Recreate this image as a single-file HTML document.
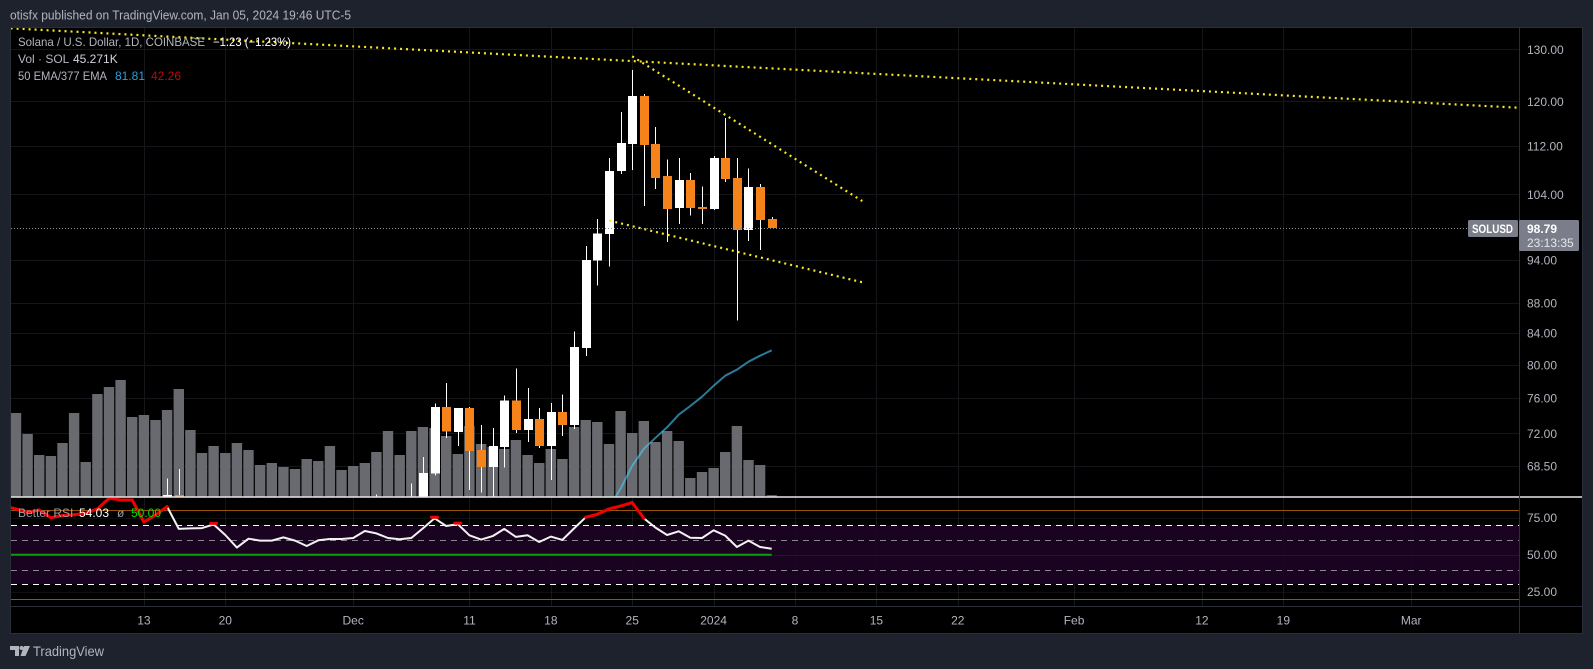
<!DOCTYPE html>
<html lang="en">
<head>
<meta charset="utf-8">
<title>SOLUSD chart</title>
<style>
html,body{margin:0;padding:0;background:#1e222d;width:1593px;height:669px;overflow:hidden}
svg{display:block;font-family:"Liberation Sans",sans-serif}
</style>
</head>
<body>
<svg id="chart" xmlns="http://www.w3.org/2000/svg" width="1593" height="669" viewBox="0 0 1593 669">
  <defs>
    <clipPath id="price-clip"><rect x="11" y="28" width="1509" height="469"/></clipPath>
    <clipPath id="rsi-clip"><rect x="11" y="498" width="1509" height="108"/></clipPath>
  </defs>
  <rect x="0" y="0" width="1593" height="669" fill="#1e222d"/>
  <text x="10" y="19.5" font-size="13" fill="#b2b5be" textLength="341" lengthAdjust="spacingAndGlyphs">otisfx published on TradingView.com, Jan 05, 2024 19:46 UTC-5</text>
  <rect x="10.5" y="27.5" width="1572" height="606" fill="#000" stroke="#2a2e39" stroke-width="1"/>
  <g id="grid"></g>
  <g id="rsi-pane" clip-path="url(#rsi-clip)"></g>
  <g id="volume" clip-path="url(#price-clip)"></g>
  <g id="ema" clip-path="url(#price-clip)"></g>
  <g id="candles" clip-path="url(#price-clip)"></g>
  <g id="last-price"></g>
  <g id="trends" clip-path="url(#price-clip)"></g>
  <line x1="11" x2="1582" y1="497" y2="497" stroke="#e8e8e8" stroke-width="1.4"/>
  <line x1="1519.5" x2="1519.5" y1="28" y2="633" stroke="#2a2e39"/>
  <line x1="11" x2="1582" y1="606.5" y2="606.5" stroke="#2a2e39"/>
  <g id="axis-labels" font-size="12" fill="#b2b5be"></g>

  <g font-size="12" fill="#b2b5be">
    <text x="18" y="46" textLength="187" lengthAdjust="spacingAndGlyphs">Solana / U.S. Dollar, 1D, COINBASE</text>
    <text x="213" y="46" fill="#ffffff" textLength="78" lengthAdjust="spacingAndGlyphs">−1.23 (−1.23%)</text>
    <text x="18" y="63">Vol · SOL</text>
    <text x="73" y="63" fill="#d1d4dc">45.271K</text>
    <text x="18" y="80" textLength="89" lengthAdjust="spacingAndGlyphs">50 EMA/377 EMA</text>
    <text x="115" y="80" fill="#2e9fd8">81.81</text>
    <text x="151" y="80" fill="#cc0000">42.26</text>
  </g>
  <g font-size="12" fill="#9a9da6">
    <text x="18" y="517">Better RSI</text>
    <text x="79" y="517" fill="#ffffff">54.03</text>
    <text x="117" y="517">ø</text>
    <text x="131" y="517" fill="#00e000">50.00</text>
  </g>

  <g>
    <rect x="1468" y="220" width="50" height="17" rx="1.5" fill="#7b7e8a"/>
    <text x="1472" y="233" font-size="12" font-weight="bold" fill="#ffffff" textLength="41" lengthAdjust="spacingAndGlyphs">SOLUSD</text>
  </g>
  <g>
    <rect x="1519" y="220" width="60" height="31" rx="1.5" fill="#7b7e8a"/>
    <text x="1527" y="233" font-size="12" font-weight="bold" fill="#ffffff">98.79</text>
    <text x="1527" y="247" font-size="12" fill="#e6e7ea">23:13:35</text>
  </g>

  <g>
    <path fill="#b2b5be" d="M10 646h9v10h-4v-6h-5z M24 646h6l-4.5 10h-5z"/>
    <circle cx="21.5" cy="648" r="2" fill="#b2b5be"/>
    <text x="33" y="656" font-size="14" fill="#b2b5be" textLength="71" lengthAdjust="spacingAndGlyphs">TradingView</text>
  </g>
</svg>
<script>
// ---- Chart data ----
const dates = ['2023-11-01','2023-11-02','2023-11-03','2023-11-04','2023-11-05','2023-11-06','2023-11-07','2023-11-08','2023-11-09','2023-11-10','2023-11-11','2023-11-12','2023-11-13','2023-11-14','2023-11-15','2023-11-16','2023-11-17','2023-11-18','2023-11-19','2023-11-20','2023-11-21','2023-11-22','2023-11-23','2023-11-24','2023-11-25','2023-11-26','2023-11-27','2023-11-28','2023-11-29','2023-11-30','2023-12-01','2023-12-02','2023-12-03','2023-12-04','2023-12-05','2023-12-06','2023-12-07','2023-12-08','2023-12-09','2023-12-10','2023-12-11','2023-12-12','2023-12-13','2023-12-14','2023-12-15','2023-12-16','2023-12-17','2023-12-18','2023-12-19','2023-12-20','2023-12-21','2023-12-22','2023-12-23','2023-12-24','2023-12-25','2023-12-26','2023-12-27','2023-12-28','2023-12-29','2023-12-30','2023-12-31','2024-01-01','2024-01-02','2024-01-03','2024-01-04','2024-01-05','2024-01-06'];
const volumeK = [2000,2100,1575,1050,1025,1350,2100,875,2575,2750,2925,2000,2050,1925,2175,2700,1675,1100,1275,1100,1350,1175,800,850,750,700,950,900,1275,675,775,850,1125,1650,1050,1650,1750,1725,1525,1075,1775,1325,1250,1200,1425,1050,850,1200,950,1750,1925,1875,1325,2150,1600,1900,1375,1650,1400,475,625,725,1125,1775,925,800,45.271];
const rsiValues = [83,80.9,78.6,80.2,75.0,76.4,77.0,78.0,80.9,88.1,87.0,87.0,72.1,76.8,82.5,67.4,67.8,68.0,70.5,63.3,54.8,60.8,59.5,59.5,61.7,59.5,55.9,59.7,60.6,60.6,61.3,66.0,64.4,61.3,60.5,61.3,67.8,74.6,69.4,70.7,63.1,60.2,62.6,67.4,62.0,63.1,58.6,62.2,60.0,67.8,75.3,77.3,80.9,82.9,85.2,74.6,68.3,63.3,65.8,61.5,61.3,66.5,62.9,55.2,59.5,55.2,54.03];

const candleDates = ['2023-11-15','2023-11-16','2023-12-03','2023-12-06','2023-12-07','2023-12-08','2023-12-09','2023-12-10','2023-12-11','2023-12-12','2023-12-13','2023-12-14','2023-12-15','2023-12-16','2023-12-17','2023-12-18','2023-12-19','2023-12-20','2023-12-21','2023-12-22','2023-12-23','2023-12-24','2023-12-25','2023-12-26','2023-12-27','2023-12-28','2023-12-29','2023-12-30','2023-12-31','2024-01-01','2024-01-02','2024-01-03','2024-01-04','2024-01-05','2024-01-06'];
const opens  = [64,65.5,64,64.5,64.5,67.66,75.0,72.18,74.89,70.18,68.39,70.52,75.71,72.40,73.62,70.63,74.42,72.95,82.13,93.9,97.84,107.82,112.4,120.98,112.4,107.0,101.83,106.3,102.0,101.67,110.0,106.67,98.44,105.17,100.1];
const highs  = [67.15,68.18,65.55,66.63,69.45,75.36,77.81,74.89,75.0,72.95,72.62,76.29,79.53,77.23,74.89,75.47,76.41,84.19,96.07,100.12,110.0,118.04,125.92,121.4,115.37,109.7,110.0,107.5,105.3,110.3,116.96,110.0,108.2,105.65,100.45];
const lows   = [64,64,64,64,64,67.5,71.51,70.63,66.0,65.72,65.0,68.29,72.05,71.07,70.40,67.04,71.73,72.5,81.13,90.37,93.04,107.33,108.0,102.14,104.85,96.68,99.35,100.7,99.35,101.5,106.0,85.64,96.83,95.5,98.79];
const closes = [65.5,64,64.5,65,67.76,75.0,72.18,74.89,70.07,68.39,70.63,75.71,72.40,73.62,70.63,74.42,72.95,82.26,94.03,97.95,107.82,112.57,120.98,112.2,106.67,101.67,106.3,101.83,101.67,110.0,106.5,98.44,105.17,99.97,98.79];

const emaDates = ['2023-12-23','2023-12-24','2023-12-25','2023-12-26','2023-12-27','2023-12-28','2023-12-29','2023-12-30','2023-12-31','2024-01-01','2024-01-02','2024-01-03','2024-01-04','2024-01-05','2024-01-06'];
const emaValues = [64.3,66.12,68.5,70.31,71.51,72.68,74.1,75.1,76.18,77.47,78.68,79.41,80.39,81.14,81.81];

const priceTicks = [130,120,112,104,94,88,84,80,76,72,68.5];
const priceTickLabels = ['130.00','120.00','112.00','104.00','94.00','88.00','84.00','80.00','76.00','72.00','68.50'];
const rsiTicks = [75,50,25];
const rsiTickLabels = ['75.00','50.00','25.00'];
const timeTickDates = ['2023-11-13','2023-11-20','2023-12-01','2023-12-11','2023-12-18','2023-12-25','2024-01-01','2024-01-08','2024-01-15','2024-01-22','2024-02-01','2024-02-12','2024-02-19','2024-03-01'];
const timeTickLabels = ['13','20','Dec','11','18','25','2024','8','15','22','Feb','12','19','Mar'];

const lastPrice = 98.79;
const rsiAverage = 50;
const trendNames = ['trend-line-top','trend-line-channel-upper','trend-line-channel-lower'];
const trendStartDays = [-60.46,-7,-8.96];
const trendEndDays = [69.16,12.79,12.79];
const trendStartPrices = [134.27,128.6,99.89];
const trendEndPrices = [118.83,102.93,90.84];

// ---- Axis functions ----
const NS = 'http://www.w3.org/2000/svg';
const JAN1 = Date.UTC(2024,0,1);
function dayOffset(iso){ const p = iso.split('-'); return (Date.UTC(+p[0],+p[1]-1,+p[2]) - JAN1) / 86400000; }
function dayX(d){ return 713.6 + 11.627 * d; }
function dateX(iso){ return dayX(dayOffset(iso)); }
function priceY(p){ return 49.3 + 650 * Math.log(130 / p); }
function rsiY(v){ return 554.7 - (v - 50) * 1.48; }
function volumeH(v){ return v / 25; }
const VOL_BASE = 497;

function make(tag, parent, props){
  const el = document.createElementNS(NS, tag);
  for (const k in props) el.setAttribute(k, props[k]);
  parent.appendChild(el);
  return el;
}
const gridG = document.getElementById('grid');
const rsiG = document.getElementById('rsi-pane');
const volG = document.getElementById('volume');
const emaG = document.getElementById('ema');
const candleG = document.getElementById('candles');
const lastG = document.getElementById('last-price');
const trendG = document.getElementById('trends');
const labelG = document.getElementById('axis-labels');
const GRID = '#141619';

// Vertical grid + time labels
timeTickDates.forEach(function(d, i){
  const x = Math.round(dateX(d)) + 0.5;
  const gl = make('line', gridG, {x1:x, x2:x, y1:28, y2:606, stroke:GRID});
  
  
  const t = make('text', labelG, {x:dateX(d), y:624.5, 'text-anchor':'middle'});
  
  
  t.textContent = timeTickLabels[i];
});
// Horizontal grid + price labels
priceTicks.forEach(function(p, i){
  const y = Math.round(priceY(p)) + 0.5;
  const gl = make('line', gridG, {x1:11, x2:1519, y1:y, y2:y, stroke:GRID});
  
  
  const t = make('text', labelG, {x:1527, y:priceY(p) + 4.5});
  
  
  t.textContent = priceTickLabels[i];
});
// RSI labels
rsiTicks.forEach(function(v, i){
  const t = make('text', labelG, {x:1527, y:rsiY(v) + 4.5});
  
  
  t.textContent = rsiTickLabels[i];
});

// RSI pane
const band = make('rect', rsiG, {x:11, y:rsiY(70), width:1509, height:rsiY(30) - rsiY(70), fill:'#1e0324', 'fill-opacity':0.88});


rsiTicks.forEach(function(v){
  const y = Math.round(rsiY(v)) + 0.5;
  const gl = make('line', rsiG, {x1:11, x2:1519, y1:y, y2:y, stroke:'#ffffff', 'stroke-opacity':0.06});
  
  
});
[80,20].forEach(function(v){
  const y = Math.round(rsiY(v)) + 0.5;
  const l = make('line', rsiG, {x1:11, x2:1519, y1:y, y2:y, stroke:'#9a5208'});
  
  
});
[70,30].forEach(function(v){
  const y = Math.round(rsiY(v)) + 0.5;
  const l = make('line', rsiG, {x1:11, x2:1519, y1:y, y2:y, stroke:'#ffffff', 'stroke-dasharray':'6 5'});
  
  
});
[60,40].forEach(function(v){
  const y = Math.round(rsiY(v)) + 0.5;
  const l = make('line', rsiG, {x1:11, x2:1519, y1:y, y2:y, stroke:'#8a8a8e', 'stroke-dasharray':'6 5'});
  
  
});
const avg = make('line', rsiG, {x1:11, x2:dateX(dates[dates.length - 1]), y1:rsiY(rsiAverage), y2:rsiY(rsiAverage), stroke:'#0b9c0b', 'stroke-width':2});


const rsiPts = rsiValues.map(function(v, i){ return dateX(dates[i]).toFixed(1) + ',' + rsiY(v).toFixed(1); }).join(' ');
const rsiLine = make('polyline', rsiG, {points:rsiPts, fill:'none', stroke:'#f2f2f2', 'stroke-width':2, 'stroke-linejoin':'round'});


rsiValues.forEach(function(v, i){
  if (v <= 70) return;
  const x = dateX(dates[i]);
  const y = rsiY(v);
  const nextHot = i + 1 < rsiValues.length && rsiValues[i + 1] > 70;
  const prevHot = i > 0 && rsiValues[i - 1] > 70;
  if (nextHot) {
    const seg = make('line', rsiG, {x1:x, y1:y, x2:dateX(dates[i + 1]), y2:rsiY(rsiValues[i + 1]), stroke:'#f00000', 'stroke-width':3, 'stroke-linecap':'round'});
    
    
  } else if (!prevHot) {
    const cap = make('line', rsiG, {x1:x - 3, y1:y - 1, x2:x + 3, y2:y - 1, stroke:'#f00000', 'stroke-width':3, 'stroke-linecap':'round'});
    
    
  }
});

// Volume bars
volumeK.forEach(function(v, i){
  const cx = dateX(dates[i]);
  const h = volumeH(v);
  const bar = make('rect', volG, {x:(cx - 5.2).toFixed(1), y:(VOL_BASE - h).toFixed(1), width:10.4, height:h.toFixed(1), fill:'#696a6f'});
  
  
});

// EMA line
const emaPts = emaValues.map(function(v, i){ return dateX(emaDates[i]).toFixed(1) + ',' + priceY(v).toFixed(1); }).join(' ');
const emaLine = make('polyline', emaG, {points:emaPts, fill:'none', stroke:'#46cfff', 'stroke-opacity':0.6, 'stroke-width':2, 'stroke-linejoin':'round'});



// Candles
candleDates.forEach(function(d, i){
  const cx = Math.round(dateX(d));
  const up = closes[i] >= opens[i];
  const wick = make('rect', candleG, {x:cx, y:priceY(highs[i]).toFixed(1), width:1, height:(priceY(lows[i]) - priceY(highs[i])).toFixed(1), fill:'#ffffff', 'shape-rendering':'crispEdges'});
  
  
  const top = priceY(Math.max(opens[i], closes[i]));
  const bot = priceY(Math.min(opens[i], closes[i]));
  const body = make('rect', candleG, {x:cx - 4, y:top.toFixed(1), width:9, height:Math.max(2, bot - top).toFixed(1), fill:up ? '#ffffff' : '#f6821a', 'shape-rendering':'crispEdges'});
  
  
});

// Last price line
const lastY = Math.round(priceY(lastPrice)) + 0.5;
const lastLine = make('line', lastG, {x1:11, x2:1519, y1:lastY, y2:lastY, stroke:'#8d8f96', 'stroke-dasharray':'1 2'});



// Trend lines
trendNames.forEach(function(name, i){
  const tl = make('line', trendG, {x1:dayX(trendStartDays[i]).toFixed(1), y1:priceY(trendStartPrices[i]).toFixed(1), x2:dayX(trendEndDays[i]).toFixed(1), y2:priceY(trendEndPrices[i]).toFixed(1), stroke:'#f7e81f', 'stroke-width':2.2, 'stroke-dasharray':'2 4'});
  
  
});
</script>
</body>
</html>
